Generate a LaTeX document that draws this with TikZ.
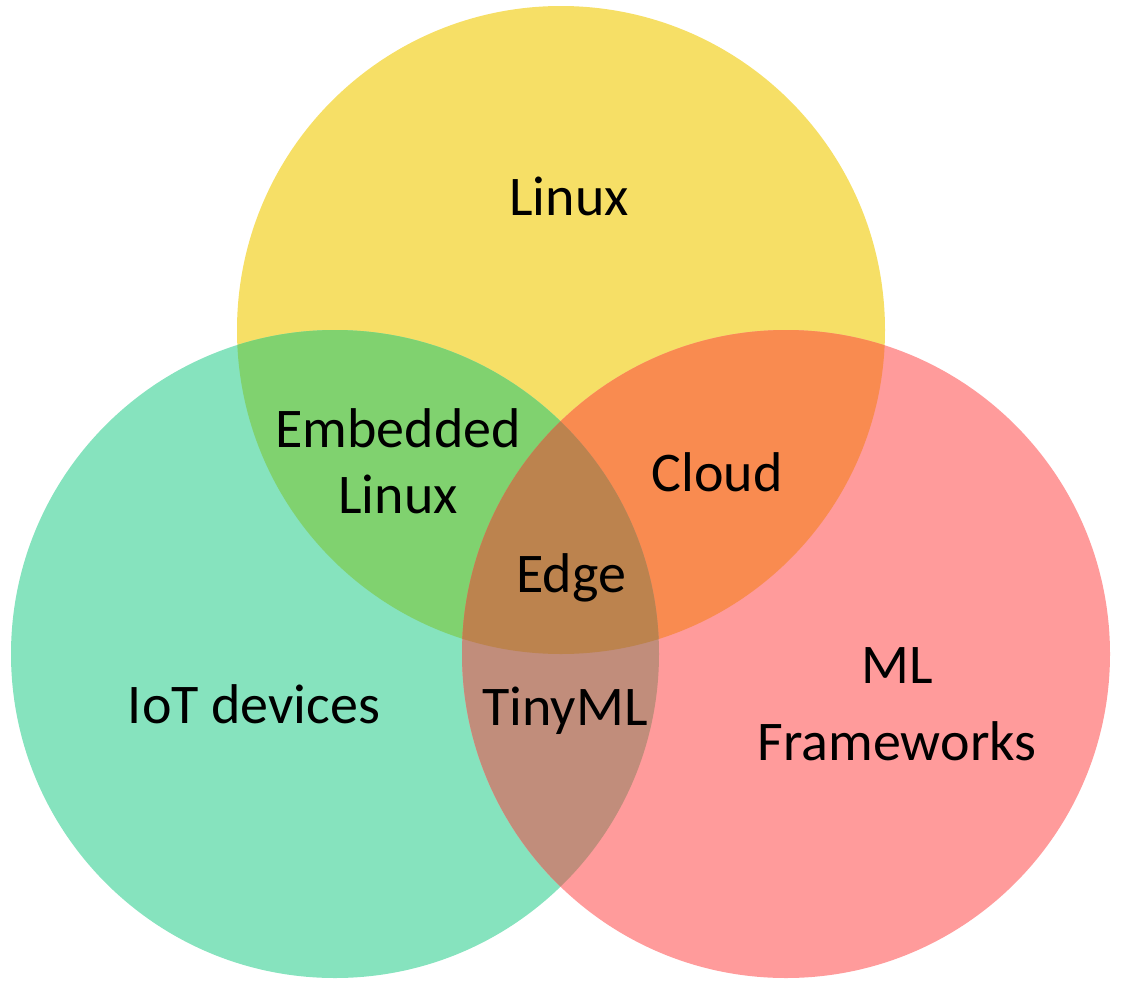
\documentclass[tikz,border=0pt]{standalone}
\usepackage{fontspec}
\setmainfont{Carlito}
\usepackage{tikz}

\definecolor{linuxyellow}{HTML}{F6DF66}
\definecolor{iotteal}{HTML}{86E3BE}
\definecolor{mlpink}{HTML}{FF9B9B}
\definecolor{embgreen}{HTML}{80D26F}
\definecolor{cloudorange}{HTML}{F98B50}
\definecolor{edgebrown}{HTML}{BC834E}
\definecolor{tinymauve}{HTML}{C18D7B}

\begin{document}
\begin{tikzpicture}[
    x=1pt, y=-1pt,
    label/.style={text=black, align=center, font=\fontsize{56}{66}\selectfont},
    rad/.style={radius=324}
]
\useasboundingbox (0,0) rectangle (1125,991);
% Circle centres
\coordinate (linux) at (561,330);
\coordinate (iot) at (335,654);
\coordinate (ml) at (786,654);
% Base circles
\fill[linuxyellow] (linux) circle[rad];
\fill[iotteal] (iot) circle[rad];
\fill[mlpink] (ml) circle[rad];
% Linux and IoT overlap
\begin{scope}
\clip (linux) circle[rad];
\fill[embgreen] (iot) circle[rad];
\end{scope}
% Linux and ML overlap
\begin{scope}
\clip (linux) circle[rad];
\fill[cloudorange] (ml) circle[rad];
\end{scope}
% IoT and ML overlap
\begin{scope}
\clip (iot) circle[rad];
\fill[tinymauve] (ml) circle[rad];
\end{scope}
% All three
\begin{scope}
\clip (linux) circle[rad];
\clip (iot) circle[rad];
\fill[edgebrown] (ml) circle[rad];
\end{scope}
% Labels
\node[label] (linuxlbl) at (569,196) {Linux};
\node[label, font=\fontsize{56}{66}\selectfont] (emblbl) at (398,461) {Embedded\\Linux};
\node[label] (cloudlbl) at (717,472) {Cloud};
\node[label] (edgelbl) at (571,578) {Edge};
\node[label] (iotlbl) at (254,704) {IoT devices};
\node[label] (tinylbl) at (565,711) {TinyML};
\node[label, font=\fontsize{56}{77}\selectfont] (mllbl) at (897,704) {ML\\Frameworks};
\end{tikzpicture}
\end{document}
